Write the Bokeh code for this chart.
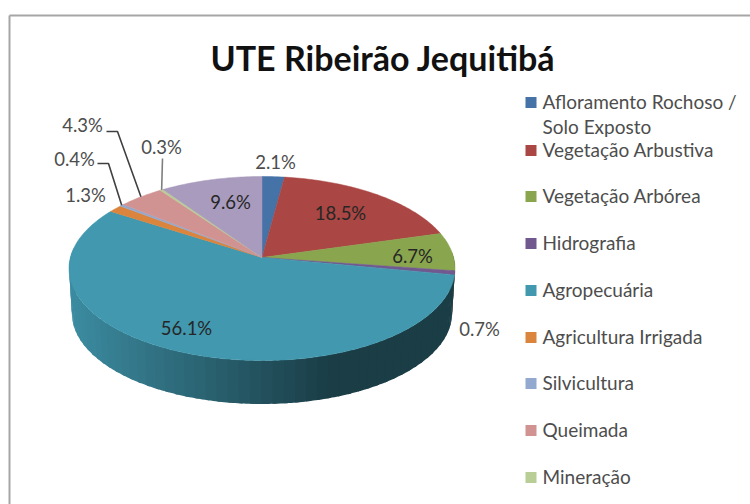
import math
from bokeh.plotting import figure
from bokeh.models import Range1d
from bokeh.core.properties import value
from bokeh.embed import file_html
from bokeh.resources import INLINE

title = "UTE Ribeirão Jequitibá"
categories = ["Afloramento Rochoso /\nSolo Exposto", "Vegetação Arbustiva", "Vegetação Arbórea", "Hidrografia",
              "Agropecuária", "Agricultura Irrigada", "Silvicultura", "Queimada", "Mineração", "Outros"]
values = [2.1, 18.5, 6.7, 0.7, 56.1, 1.3, 0.4, 4.3, 0.3, 9.6]
labels = ["2.1%", "18.5%", "6.7%", "0.7%", "56.1%", "1.3%", "0.4%", "4.3%", "0.3%", "9.6%"]
colors = ["#4573A7", "#AA4643", "#89A54E", "#71588F", "#4198AF", "#DB843D", "#93A9CF", "#D19392", "#B9CD96", "#A99BBD"]

FONT = "Lato"
W, H = 750, 504
p = figure(width=W, height=H, x_range=Range1d(0, W), y_range=Range1d(H, 0),
           output_backend="svg", toolbar_location=None, min_border=0, outline_line_color=None)
p.xaxis.visible = False
p.yaxis.visible = False
p.grid.visible = False

# frame
FRAME_X, FRAME_Y = 9, 15
p.line([FRAME_X, FRAME_X], [FRAME_Y, H], line_color="#A6A6A6", line_width=2)
p.line([FRAME_X, W], [FRAME_Y, FRAME_Y], line_color="#A6A6A6", line_width=2)

# perspective projection of the pie disc
CX, CY, A, B, K, DEPTH = 261.5, 257, 191.6, 90.7, 0.1196, 45


def proj(deg, drop=0.0, scale=1.0):
    t = math.radians(deg)
    u, v = math.sin(t), math.cos(t)
    d = 1 + K * v
    return CX + scale * A * u / d, CY + drop - scale * B * v / d


def lerp(c1, c2, f):
    return "#%02x%02x%02x" % tuple(round(a + (b - a) * f) for a, b in zip(c1, c2))


def shade(hexcol, x):
    base = tuple(int(hexcol[i:i + 2], 16) for i in (1, 3, 5))
    f1 = min(1, max(0, (x - 69) / (330 - 69)))
    left = tuple(c * 0.92 for c in base)
    right = tuple(c * 0.40 for c in base)
    return lerp(left, right, f1)


total = sum(values)
edges = [0.0]
for val in values:
    edges.append(edges[-1] + val / total * 360)

# side wall
for i, col in enumerate(colors):
    start, end = edges[i], edges[i + 1]
    n = max(2, int((end - start) / 3.0))
    for j in reversed(range(n)):
        a0 = start + (end - start) * j / n
        a1 = start + (end - start) * (j + 1) / n
        mid = (a0 + a1) / 2
        if not 85 < mid < 275:
            continue
        steps = [a0 + (a1 + 1.0 - a0) * s / 6 for s in range(7)]
        top = [proj(a) for a in steps]
        bot = [proj(a, DEPTH, 0.985) for a in reversed(steps)]
        c = shade(col, (top[0][0] + top[-1][0]) / 2)
        p.patch([q[0] for q in top + bot], [q[1] for q in top + bot], fill_color=c, line_color=None)

# top face
for i, col in enumerate(colors):
    start, end = edges[i], edges[i + 1]
    n = max(2, int((end - start) / 1.0))
    pts = [proj(start + (end - start) * j / n) for j in range(n + 1)]
    xs = [CX] + [q[0] for q in pts]
    ys = [CY] + [q[1] for q in pts]
    p.patch(xs, ys, fill_color=col, line_color=col, line_width=0.5)

# leader lines (label side -> elbow -> slice rim)
LEADERS = [(7, (106, 131), (117, 131), "#404040"), (6, (97, 163), (108, 163), "#404040"),
           (8, (162, 158), (162, 158), "#7F7F7F")]
for idx, s, e, lc in LEADERS:
    rx, ry = proj((edges[idx] + edges[idx + 1]) / 2)
    p.line([s[0], e[0], rx], [s[1], e[1], ry], line_color=lc, line_width=1.6)

# data labels
LABEL_POS = [(275, 161), (340, 212), (412, 255), (479, 328), (186, 327),
             (85, 194), (74, 158), (82, 124), (161, 146), (230, 201)]
INSIDE = {1, 2, 4, 9}
for i, (lx, ly) in enumerate(LABEL_POS):
    p.text([lx], [ly], text=[labels[i]], text_font=value(FONT), text_font_size="18.5px",
           text_align="center", text_baseline="middle",
           text_color="#262626" if i in INSIDE else "#4D4D4D")

# title
p.text([382.5], [57], text=[title], text_font=value(FONT), text_font_size="34px", text_font_style="bold",
       text_align="center", text_baseline="middle", text_color="#111111")

# legend
LEG_Y = [102, 150, 196, 243, 290, 337, 383, 430, 477]
for y, name, col in zip(LEG_Y, categories, colors):
    p.rect([530.5], [y], width=11, height=11, fill_color=col, line_color=None)
    for k, line in enumerate(name.split("\n")):
        p.text([542], [y - 1 + k * 25], text=[line], text_font=value(FONT), text_font_size="19px",
               text_align="left", text_baseline="middle", text_color="#4D4D4D")

open("out.html", "w").write(file_html(p, INLINE))
